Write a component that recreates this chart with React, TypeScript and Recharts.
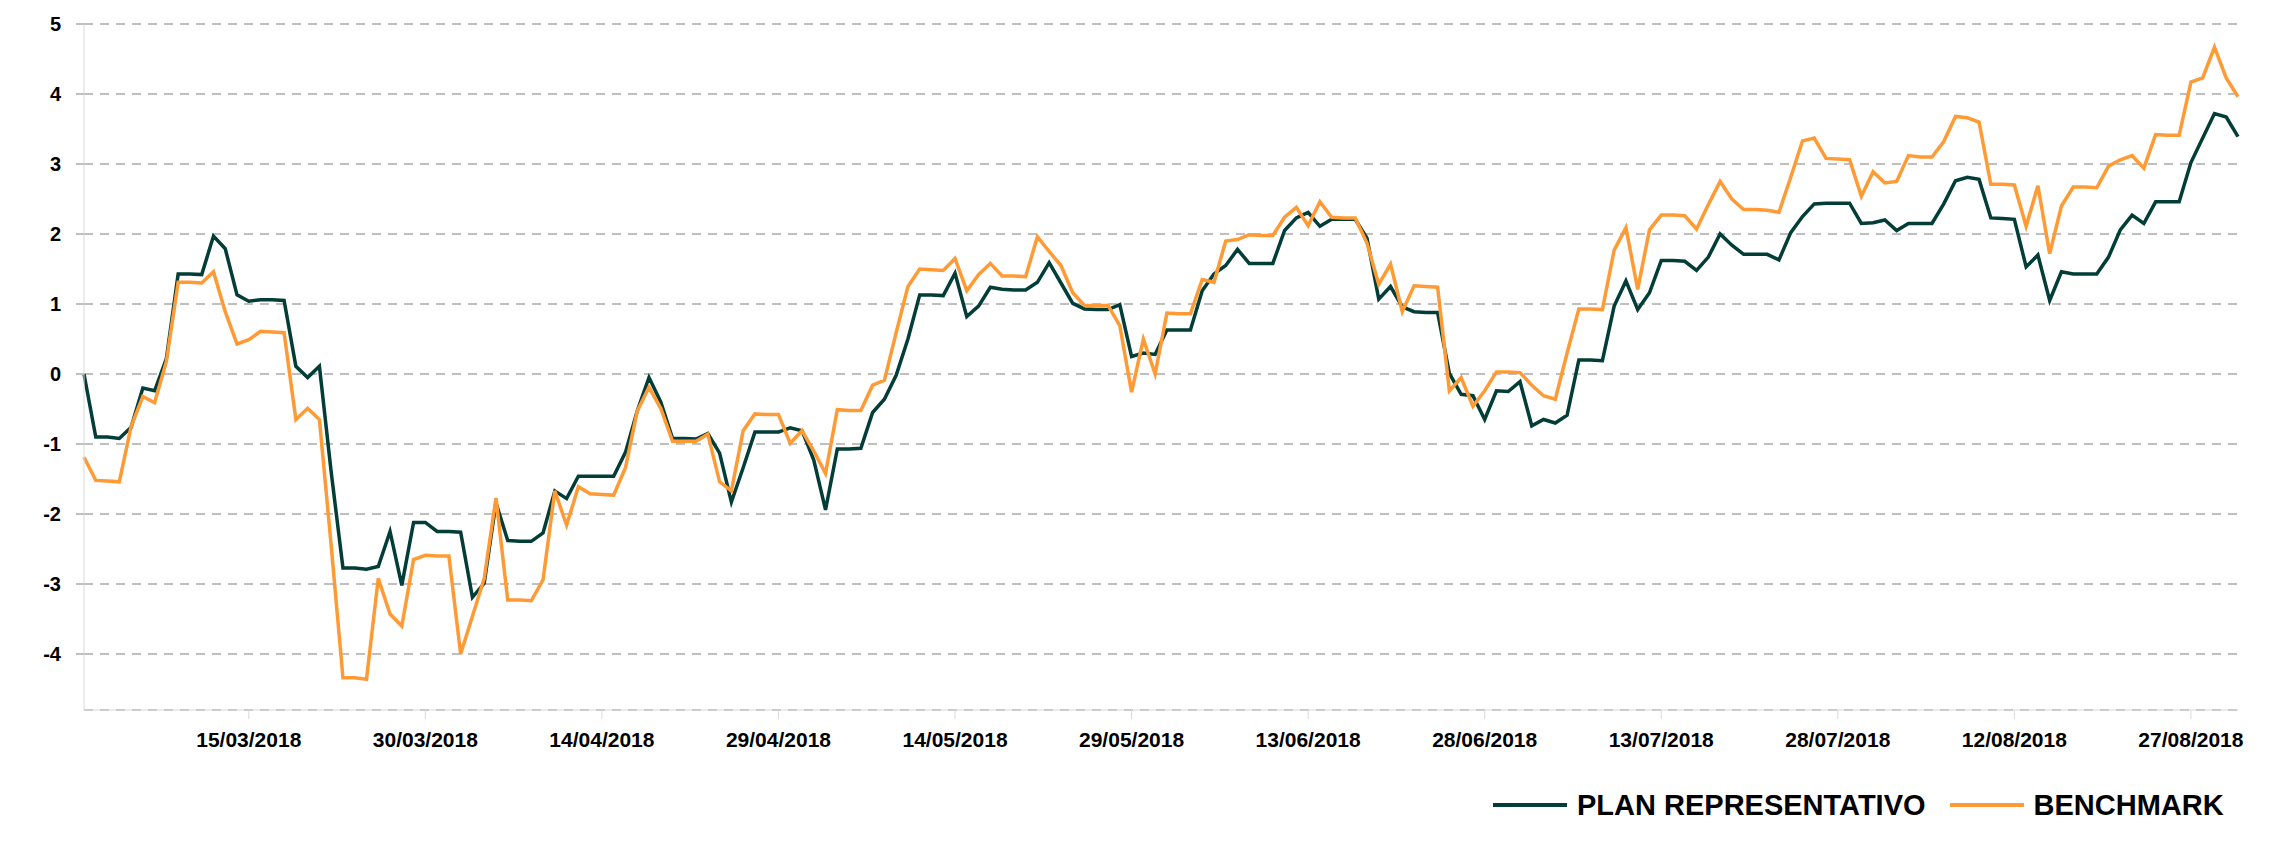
import React from 'react';
import { LineChart, Line, XAxis, YAxis, CartesianGrid, Legend } from 'recharts';

// day index 0 = 01/03/2018, one point per calendar day up to 31/08/2018
const plan = [
    0.0, -0.9, -0.9, -0.92, -0.76, -0.2, -0.24, 0.22, 1.43, 1.43,
    1.42, 1.97, 1.79, 1.13, 1.04, 1.06, 1.06, 1.05, 0.11, -0.05,
    0.11, -1.4, -2.77, -2.77, -2.79, -2.75, -2.25, -3.02, -2.12, -2.12,
    -2.25, -2.25, -2.26, -3.19, -2.99, -1.84, -2.38, -2.39, -2.39, -2.27,
    -1.67, -1.78, -1.46, -1.46, -1.46, -1.46, -1.12, -0.53, -0.05, -0.4,
    -0.92, -0.92, -0.93, -0.85, -1.13, -1.83, -1.34, -0.83, -0.83, -0.83,
    -0.77, -0.81, -1.23, -1.94, -1.07, -1.07, -1.06, -0.55, -0.36, -0.02,
    0.5, 1.13, 1.13, 1.12, 1.44, 0.82, 0.97, 1.24, 1.21, 1.2,
    1.2, 1.31, 1.59, 1.3, 1.01, 0.93, 0.92, 0.92, 0.99, 0.25,
    0.3, 0.28, 0.63, 0.63, 0.63, 1.19, 1.43, 1.55, 1.78, 1.58,
    1.58, 1.58, 2.05, 2.23, 2.31, 2.11, 2.21, 2.21, 2.21, 1.94,
    1.07, 1.25, 0.96, 0.89, 0.88, 0.88, 0.01, -0.29, -0.31, -0.65,
    -0.24, -0.25, -0.11, -0.74, -0.65, -0.7, -0.59, 0.2, 0.2, 0.19,
    0.97, 1.33, 0.92, 1.16, 1.62, 1.62, 1.61, 1.48, 1.67, 2.0,
    1.84, 1.71, 1.71, 1.71, 1.63, 2.02, 2.25, 2.43, 2.44, 2.44,
    2.44, 2.15, 2.16, 2.2, 2.05, 2.15, 2.15, 2.15, 2.43, 2.76,
    2.81, 2.78, 2.23, 2.22, 2.21, 1.53, 1.7, 1.05, 1.46, 1.43,
    1.43, 1.43, 1.67, 2.06, 2.27, 2.15, 2.46, 2.46, 2.46, 3.02,
    3.37, 3.72, 3.67, 3.39,
];

const benchmark = [
    -1.19, -1.52, -1.53, -1.54, -0.75, -0.32, -0.41, 0.18, 1.31, 1.31,
    1.3, 1.46, 0.89, 0.43, 0.49, 0.61, 0.6, 0.59, -0.65, -0.49,
    -0.65, -2.45, -4.34, -4.34, -4.36, -2.92, -3.43, -3.6, -2.65, -2.59,
    -2.6, -2.6, -4.0, -3.46, -2.92, -1.77, -3.23, -3.23, -3.24, -2.94,
    -1.67, -2.16, -1.61, -1.71, -1.72, -1.73, -1.34, -0.53, -0.19, -0.49,
    -0.96, -0.96, -0.96, -0.86, -1.54, -1.67, -0.81, -0.57, -0.58, -0.58,
    -0.99, -0.81, -1.1, -1.42, -0.51, -0.52, -0.52, -0.16, -0.09, 0.59,
    1.25, 1.5, 1.49, 1.48, 1.65, 1.19, 1.42, 1.58, 1.4, 1.4,
    1.39, 1.96, 1.75, 1.55, 1.16, 0.98, 0.98, 0.98, 0.69, -0.26,
    0.5, 0.0, 0.87, 0.86, 0.86, 1.35, 1.31, 1.9, 1.92, 1.99,
    1.98, 1.98, 2.24, 2.38, 2.12, 2.46, 2.24, 2.23, 2.23, 1.87,
    1.28, 1.57, 0.89, 1.26, 1.25, 1.24, -0.24, -0.05, -0.46, -0.24,
    0.03, 0.03, 0.02, -0.16, -0.31, -0.36, 0.3, 0.93, 0.93, 0.92,
    1.77, 2.09, 1.21, 2.06, 2.27, 2.27, 2.26, 2.07, 2.42, 2.75,
    2.5, 2.35, 2.35, 2.34, 2.31, 2.81, 3.33, 3.37, 3.08, 3.07,
    3.06, 2.54, 2.89, 2.73, 2.75, 3.12, 3.1, 3.1, 3.32, 3.68,
    3.66, 3.6, 2.71, 2.71, 2.7, 2.11, 2.69, 1.72, 2.4, 2.67,
    2.67, 2.66, 2.97, 3.06, 3.12, 2.94, 3.42, 3.41, 3.41, 4.17,
    4.23, 4.67, 4.23, 3.96,
];

const tickDays = [14, 29, 44, 59, 74, 89, 104, 119, 134, 149, 164, 179];
const tickLabels = [
    '15/03/2018', '30/03/2018', '14/04/2018', '29/04/2018', '14/05/2018', '29/05/2018',
    '13/06/2018', '28/06/2018', '13/07/2018', '28/07/2018', '12/08/2018', '27/08/2018',
];
const yTicks = [-4, -3, -2, -1, 0, 1, 2, 3, 4, 5];

const GREEN = '#023d37';
const ORANGE = '#ff9a35';
const FONT = '"Liberation Sans", Arial, sans-serif';

const chartData = plan.map((v, i) => ({ day: i, plan: v, benchmark: benchmark[i] }));

const LegendContent = () => {
    const items = [
        { label: 'PLAN REPRESENTATIVO', color: GREEN },
        { label: 'BENCHMARK', color: ORANGE },
    ];
    return (
        <div style={{ display: 'flex', alignItems: 'center', height: 40, paddingLeft: 1493, fontFamily: FONT }}>
            {items.map((it, i) => (
                <div key={it.label} style={{ display: 'flex', alignItems: 'center', marginLeft: i === 0 ? 0 : 24 }}>
                    <div style={{ width: 74, height: 4, background: it.color }} />
                    <span style={{ marginLeft: 10, fontSize: 29, fontWeight: 700, color: '#000', lineHeight: '40px' }}>
                        {it.label}
                    </span>
                </div>
            ))}
        </div>
    );
};

export default function App() {
    return (
        <div style={{ position: 'absolute', left: 0, top: 0, width: 2271, height: 843, background: '#fff' }}>
            <LineChart
                width={2271}
                height={843}
                data={chartData}
                margin={{ top: 24, right: 33, left: 0, bottom: 43 }}
            >
                <CartesianGrid vertical={false} stroke="#bfbfbf" strokeWidth={2} strokeDasharray="9 7" />
                <XAxis
                    dataKey="day"
                    type="number"
                    domain={[0, 183]}
                    ticks={tickDays}
                    interval={0}
                    tickFormatter={(d) => tickLabels[tickDays.indexOf(d)] ?? ''}
                    axisLine={{ stroke: '#d9d9d9' }}
                    tickLine={{ stroke: '#d9d9d9' }}
                    tickSize={9}
                    tickMargin={13}
                    height={50}
                    tick={{ fontSize: 21, fontWeight: 700, fill: '#000', fontFamily: FONT }}
                />
                <YAxis
                    domain={[-4.8, 5]}
                    ticks={yTicks}
                    interval={0}
                    allowDataOverflow
                    axisLine={{ stroke: '#d9d9d9' }}
                    tickLine={{ stroke: '#bfbfbf', strokeWidth: 2 }}
                    tickSize={8}
                    tickMargin={15}
                    width={84}
                    tick={{ fontSize: 20, fontWeight: 700, fill: '#000', fontFamily: FONT }}
                />
                <Legend
                    verticalAlign="bottom"
                    content={() => <LegendContent />}
                    wrapperStyle={{ left: 0, top: 785, width: 2271, height: 40 }}
                />
                <Line
                    type="linear"
                    dataKey="plan"
                    name="PLAN REPRESENTATIVO"
                    stroke={GREEN}
                    strokeWidth={3.5}
                    dot={false}
                    isAnimationActive={false}
                />
                <Line
                    type="linear"
                    dataKey="benchmark"
                    name="BENCHMARK"
                    stroke={ORANGE}
                    strokeWidth={3.5}
                    dot={false}
                    isAnimationActive={false}
                />
            </LineChart>
        </div>
    );
}
